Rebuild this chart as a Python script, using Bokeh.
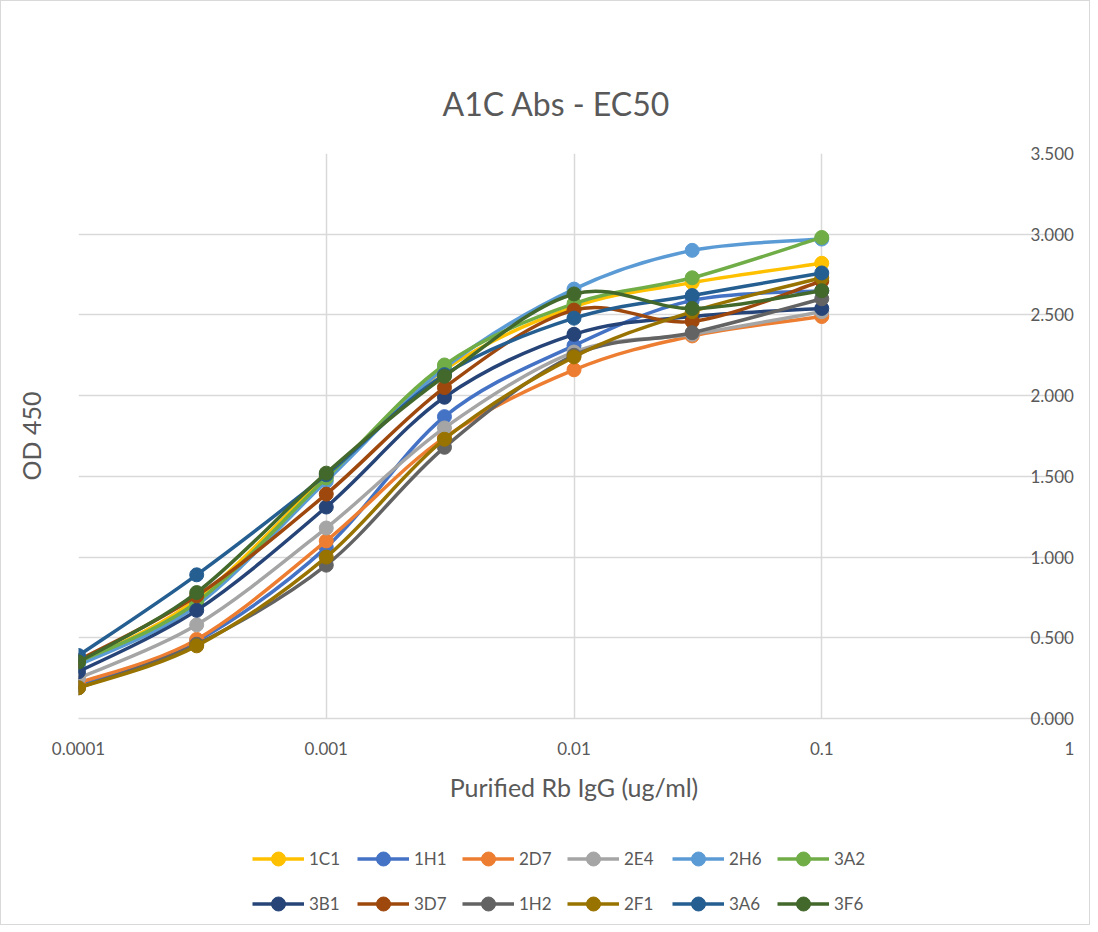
import numpy as np
from bokeh.plotting import figure
from bokeh.layouts import column
from bokeh.models import (Range1d, FixedTicker, CustomJSTickFormatter, Legend,
                          LegendItem, ColumnDataSource, LinearAxis)
from bokeh.embed import file_html
from bokeh.resources import INLINE

# ---------------- data ----------------
conc = [0.0001, 0.0003, 0.001, 0.003, 0.01, 0.03, 0.1]

s_1C1 = [0.34, 0.74, 1.50, 2.16, 2.55, 2.70, 2.82]
s_1H1 = [0.21, 0.48, 1.06, 1.87, 2.31, 2.59, 2.65]
s_2D7 = [0.22, 0.49, 1.10, 1.74, 2.16, 2.37, 2.49]
s_2E4 = [0.25, 0.58, 1.18, 1.80, 2.27, 2.38, 2.52]
s_2H6 = [0.33, 0.70, 1.47, 2.17, 2.66, 2.90, 2.97]
s_3A2 = [0.35, 0.72, 1.49, 2.19, 2.57, 2.73, 2.98]
s_3B1 = [0.29, 0.67, 1.31, 1.99, 2.38, 2.49, 2.54]
s_3D7 = [0.36, 0.76, 1.39, 2.05, 2.53, 2.46, 2.71]
s_1H2 = [0.19, 0.46, 0.95, 1.68, 2.25, 2.39, 2.60]
s_2F1 = [0.19, 0.45, 1.00, 1.73, 2.24, 2.52, 2.73]
s_3A6 = [0.39, 0.89, 1.51, 2.13, 2.48, 2.62, 2.76]
s_3F6 = [0.35, 0.78, 1.52, 2.12, 2.63, 2.54, 2.65]

series_names = ["1C1", "1H1", "2D7", "2E4", "2H6", "3A2",
                "3B1", "3D7", "1H2", "2F1", "3A6", "3F6"]
series_values = [s_1C1, s_1H1, s_2D7, s_2E4, s_2H6, s_3A2,
                 s_3B1, s_3D7, s_1H2, s_2F1, s_3A6, s_3F6]
colors = ["#FFC000", "#4472C4", "#ED7D31", "#A5A5A5", "#5B9BD5", "#70AD47",
          "#264478", "#9E480E", "#636363", "#997300", "#255E91", "#43682B"]

x_ticks = [0.0001, 0.001, 0.01, 0.1, 1]
x_tick_labels = ["0.0001", "0.001", "0.01", "0.1", "1"]
y_ticks = [0.0, 0.5, 1.0, 1.5, 2.0, 2.5, 3.0, 3.5]
y_tick_labels = ["0.000", "0.500", "1.000", "1.500", "2.000", "2.500", "3.000", "3.500"]

FONT = "Lato"
TXT = "#595959"
GRID = "#d9d9d9"

LOOKUP_LOG = """
    let best = 0, bd = Infinity;
    for (let i = 0; i < tv.length; i++) {
        const d = Math.abs(Math.log10(tv[i]) - Math.log10(tick));
        if (d < bd) { bd = d; best = i; }
    }
    return tl[best];
"""
LOOKUP_LIN = """
    let best = 0, bd = Infinity;
    for (let i = 0; i < tv.length; i++) {
        const d = Math.abs(tv[i] - tick);
        if (d < bd) { bd = d; best = i; }
    }
    return tl[best];
"""

# ---------------- main figure ----------------
p = figure(width=1088, height=812, x_axis_type="log",
           x_range=Range1d(x_ticks[0], x_ticks[-1]),
           y_range=Range1d(y_ticks[0], y_ticks[-1]),
           output_backend="svg", toolbar_location=None,
           min_border_left=77, min_border_right=20,
           min_border_top=152, min_border_bottom=95,
           title="A1C Abs - EC50")
p.outline_line_color = None
p.background_fill_color = "white"
p.border_fill_color = "white"

p.title.text_font = FONT
p.title.text_font_size = "32px"
p.title.text_font_style = "normal"
p.title.text_color = TXT
p.title.align = "left"
p.title.offset = 364
p.title.standoff = 62

# grids
p.xgrid.ticker = FixedTicker(ticks=x_ticks)
p.ygrid.ticker = FixedTicker(ticks=y_ticks)
for g in (p.xgrid, p.ygrid):
    g.grid_line_color = GRID
    g.grid_line_width = 1.5
p.xgrid.minor_grid_line_color = None

# x axis
xa = p.xaxis[0]
xa.ticker = FixedTicker(ticks=x_ticks)
xa.formatter = CustomJSTickFormatter(args=dict(tv=x_ticks, tl=x_tick_labels), code=LOOKUP_LOG)
xa.axis_line_color = GRID
xa.axis_line_width = 1.5
xa.major_tick_line_color = None
xa.minor_tick_line_color = None
xa.major_tick_in = 0
xa.major_tick_out = 0
xa.major_label_standoff = 23
xa.major_label_text_font = FONT
xa.major_label_text_font_size = "17px"
xa.major_label_text_color = TXT
xa.axis_label = "Purified Rb IgG (ug/ml)"
xa.axis_label_text_font = FONT
xa.axis_label_text_font_size = "25px"
xa.axis_label_text_font_style = "normal"
xa.axis_label_text_color = TXT
xa.axis_label_standoff = 14

# left y axis: title only
ya = p.yaxis[0]
ya.ticker = FixedTicker(ticks=[])
ya.axis_line_color = None
ya.major_tick_line_color = None
ya.minor_tick_line_color = None
ya.axis_label = "OD 450"
ya.axis_label_text_font = FONT
ya.axis_label_text_font_size = "25px"
ya.axis_label_text_font_style = "normal"
ya.axis_label_text_color = TXT
ya.axis_label_standoff = 33

# right y axis: tick labels sitting just inside the plot's right edge
ra = LinearAxis(ticker=FixedTicker(ticks=y_ticks),
                formatter=CustomJSTickFormatter(args=dict(tv=y_ticks, tl=y_tick_labels), code=LOOKUP_LIN))
ra.axis_line_color = None
ra.major_tick_line_color = None
ra.minor_tick_line_color = None
ra.major_tick_in = 0
ra.major_tick_out = 0
ra.major_label_standoff = -39
ra.major_label_text_font = FONT
ra.major_label_text_font_size = "17px"
ra.major_label_text_color = TXT
p.add_layout(ra, "right")


# ---------------- smoothed series ----------------
def bezier_source(xs, ys):
    lx = np.log10(np.asarray(xs, dtype=float))
    yy = np.asarray(ys, dtype=float)
    P = np.column_stack([lx, yy])
    n = len(P)
    d = dict(x0=[], y0=[], x1=[], y1=[], cx0=[], cy0=[], cx1=[], cy1=[])
    for i in range(n - 1):
        p0 = P[max(i - 1, 0)]
        p1 = P[i]
        p2 = P[i + 1]
        p3 = P[min(i + 2, n - 1)]
        c1 = p1 + (p2 - p0) / 6.0
        c2 = p2 - (p3 - p1) / 6.0
        d["x0"].append(10 ** p1[0]); d["y0"].append(p1[1])
        d["x1"].append(10 ** p2[0]); d["y1"].append(p2[1])
        d["cx0"].append(10 ** c1[0]); d["cy0"].append(c1[1])
        d["cx1"].append(10 ** c2[0]); d["cy1"].append(c2[1])
    return ColumnDataSource(d)


for name, vals, col in zip(series_names, series_values, colors):
    src = bezier_source(conc, vals)
    p.bezier(x0="x0", y0="y0", x1="x1", y1="y1", cx0="cx0", cy0="cy0",
             cx1="cx1", cy1="cy1", source=src, line_color=col,
             line_width=3.5, line_cap="round")
    p.scatter(x=conc, y=vals, marker="circle", size=14,
              fill_color=col, line_color=col, line_width=1)

# ---------------- legend strip (own figure, so nothing clips it) ----------------
lf = figure(width=1088, height=111, x_range=Range1d(0, 1), y_range=Range1d(0, 1),
            output_backend="svg", toolbar_location=None,
            x_axis_location=None, y_axis_location=None,
            min_border=0, min_border_left=0, min_border_right=0,
            min_border_top=0, min_border_bottom=0)
lf.outline_line_color = None
lf.xgrid.visible = False
lf.ygrid.visible = False

items = []
for name, col in zip(series_names, colors):
    # legend proxies: a single NaN point, so nothing is drawn in the strip itself
    lr = lf.line(x=[np.nan], y=[np.nan], line_color=col, line_width=3.5)
    sr = lf.scatter(x=[np.nan], y=[np.nan], marker="circle",
                    fill_color=col, line_color=col)
    items.append(LegendItem(label=name, renderers=[lr, sr]))

legend = Legend(items=items, orientation="horizontal", ncols=6,
                location=(174, 3), glyph_width=52, glyph_height=35,
                label_standoff=5, label_width=38, spacing=10, padding=0, margin=0,
                border_line_color=None, background_fill_alpha=0,
                label_text_font=FONT, label_text_font_size="17px",
                label_text_color=TXT)
lf.add_layout(legend, "center")

layout = column(p, lf, spacing=0, styles={"border": "1px solid #d9d9d9"})

open("out.html", "w").write(file_html(layout, INLINE))
